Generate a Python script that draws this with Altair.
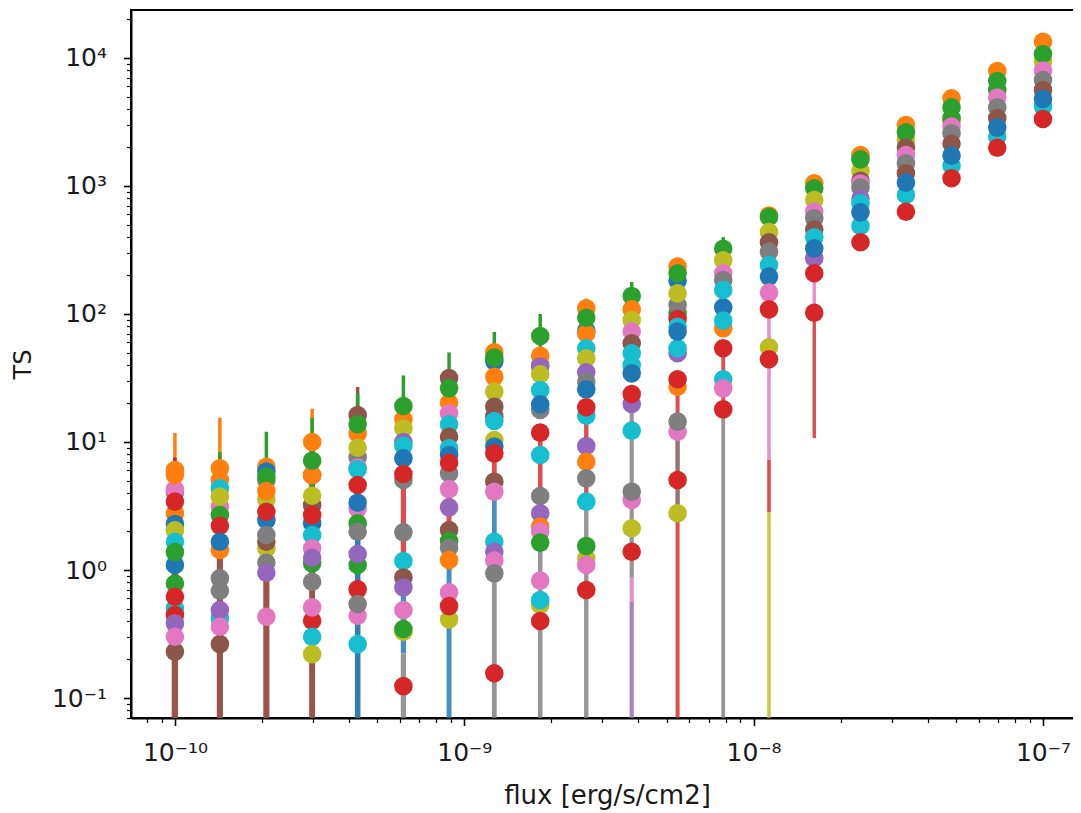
import altair as alt
import pandas as pd

FLUX = [1.0e-10, 1.43e-10, 2.07e-10, 2.98e-10, 4.28e-10, 6.16e-10, 8.86e-10, 1.27e-9, 1.83e-9, 2.64e-9,
        3.79e-9, 5.46e-9, 7.85e-9, 1.13e-8, 1.62e-8, 2.34e-8, 3.36e-8, 4.83e-8, 6.95e-8, 1.0e-7]
PALETTE = ["#1f77b4", "#ff7f0e", "#2ca02c", "#d62728", "#9467bd", "#8c564b", "#e377c2", "#7f7f7f", "#bcbd22", "#17becf"]
NAMES = ["blue", "orange", "green", "red", "purple", "brown", "pink", "gray", "olive", "cyan"]
b, o, g, r, p, n, k, a, l, c = range(10)

# per flux column: (series colour, log10 TS) in drawing order
COLUMNS = [
    [(a,.61),(k,.63),(o,.44),(b,.36),(l,.31),(r,.534),(o,.78),(o,.742),(c,.22),(b,.04),(g,.14),(c,-.30),(g,-.105),(r,-.352),(r,-.209),(n,-.638),(p,-.417),(k,-.521)],
    [(o,.794),(o,.703),(c,.638),(k,.495),(l,.573),(g,.43),(o,.156),(r,.346),(b,.221),(a,-.065),(a,-.162),(c,-.378),(p,-.313),(n,-.579),(k,-.443)],
    [(o,.807),(b,.77),(a,.70),(l,.55),(g,.729),(o,.617),(b,.39),(r,.455),(l,.169),(n,.221),(a,.273),(a,.057),(p,-.021),(k,-.365)],
    [(o,1.0),(n,.74),(o,.742),(g,.854),(n,.507),(l,.58),(b,.364),(c,.273),(r,.429),(g,.052),(k,.169),(p,.096),(a,-.092),(r,-.396),(k,-.292),(c,-.521),(l,-.657)],
    [(n,1.21),(o,1.067),(g,1.138),(a,.88),(l,.955),(k,.80),(c,.786),(r,.664),(k,.48),(b,.526),(g,.364),(a,.299),(g,.039),(p,.125),(r,-.151),(k,-.357),(a,-.266),(c,-.579)],
    [(o,1.177),(l,1.106),(g,1.281),(p,1.0),(c,.971),(b,.872),(a,.703),(r,.75),(a,.294),(c,.07),(n,-.058),(p,-.136),(k,-.313),(l,-.482),(g,-.461),(r,-.907)],
    [(n,1.50),(o,1.307),(g,1.419),(k,1.224),(c,1.138),(n,1.041),(c,.95),(b,.898),(a,.755),(r,.838),(k,.632),(p,.489),(n,.312),(g,.226),(a,.174),(o,.078),(k,-.175),(l,-.386),(r,-.282)],
    [(o,1.70),(b,1.63),(g,1.659),(o,1.51),(l,1.393),(n,1.276),(n,1.2),(c,1.164),(l,1.016),(b,.964),(r,.911),(n,.69),(k,.612),(c,.221),(p,.143),(k,.073),(a,-.026),(r,-.807)],
    [(g,1.828),(a,1.60),(o,1.674),(p,1.589),(l,1.529),(c,1.406),(a,1.25),(b,1.294),(r,1.073),(c,.898),(a,.578),(p,.443),(o,.339),(k,.3),(g,.214),(l,-.273),(k,-.083),(c,-.234),(r,-.398)],
    [(o,2.044),(b,1.87),(o,1.849),(g,1.971),(c,1.732),(l,1.654),(p,1.544),(a,1.471),(c,1.206),(b,1.411),(r,1.271),(p,.969),(o,.846),(a,.716),(c,.534),(l,.091),(g,.188),(k,.039),(r,-.156)],
    [(g,2.141),(o,2.036),(l,1.953),(k,1.862),(n,1.771),(c,1.693),(c,1.60),(b,1.536),(p,1.297),(r,1.375),(c,1.089),(k,.547),(a,.612),(l,.326),(r,.143)],
    [(o,2.37),(b,2.26),(g,2.318),(g,2.005),(a,2.07),(l,2.161),(r,1.96),(c,1.90),(p,1.693),(c,1.732),(b,1.862),(o,1.432),(r,1.49),(k,1.081),(a,1.159),(r,.703),(l,.443)],
    [(g,2.51),(l,2.42),(k,2.318),(a,2.266),(b,2.052),(c,2.188),(o,1.888),(c,1.948),(r,1.732),(c,1.49),(k,1.419),(r,1.255)],
    [(o,2.77),(g,2.758),(l,2.64),(n,2.56),(a,2.487),(c,2.383),(b,2.292),(k,2.167),(r,2.036),(l,1.74),(r,1.646)],
    [(o,3.021),(g,2.982),(l,2.891),(k,2.80),(a,2.747),(n,2.66),(p,2.435),(c,2.599),(b,2.513),(r,2.318),(r,2.01)],
    [(o,3.242),(l,3.117),(g,3.208),(n,3.04),(k,3.02),(a,2.987),(p,2.90),(c,2.687),(c,2.865),(b,2.794),(r,2.56)],
    [(o,3.477),(l,3.359),(g,3.419),(n,3.30),(k,3.242),(a,3.177),(n,3.10),(c,2.93),(b,3.026),(r,2.799)],
    [(o,3.685),(l,3.50),(g,3.614),(g,3.53),(k,3.464),(a,3.411),(n,3.33),(c,3.159),(b,3.237),(r,3.06)],
    [(o,3.898),(g,3.75),(g,3.82),(k,3.69),(a,3.614),(n,3.53),(c,3.385),(b,3.456),(r,3.299)],
    [(o,4.127),(l,3.97),(g,4.031),(k,3.901),(a,3.828),(n,3.75),(c,3.62),(b,3.68),(r,3.523)],
]

# thin upper error bars: (column, colour, top log10 TS)
UPPER = [
    (0,o,1.07),(0,r,.88),(1,o,1.19),(1,g,.92),(2,g,1.08),(3,o,1.26),(3,g,1.19),(4,n,1.43),(4,g,1.38),
    (5,g,1.52),(6,g,1.70),(7,g,1.86),(8,g,2.0),(9,o,2.12),(10,g,2.25),(11,o,2.44),(12,g,2.6),
]
# lower error bars: (column, colour, bottom log10 TS, top log10 TS); -2 runs off the axis
LOWER = [
    (0,r,-2,.8),(0,n,-2,.8),(1,r,-2,.8),(1,n,-2,.8),(2,r,-2,.8),(2,n,-2,.8),(3,r,-2,1),(3,n,-2,1),
    (4,a,-2,.3),(4,b,-2,.3),(5,r,-.1,.75),(5,b,-.65,-.1),(5,a,-2,-.65),(6,r,.3,.8),(6,b,-2,.3),
    (7,r,.6,.9),(7,b,.2,.6),(7,a,-2,.2),(8,r,.6,1.07),(8,a,-2,.6),(9,r,.5,1.27),(9,a,-2,.5),
    (10,a,-.06,1.3),(10,k,-.25,-.06),(10,p,-2,-.25),(11,r,-2,1.45),(11,a,.44,1.15),
    (12,a,-2,1.3),(12,r,1.25,1.73),(13,k,.86,2.0),(13,r,.45,.86),(13,l,-2,.45),
    (14,k,2.0,2.3),(14,r,1.03,2.0),
]

X_DOMAIN = [7.05e-11, 1.375e-7]
Y_DOMAIN = [0.0698, 23700]
X_TICKS = [m * d for d in [1e-11, 1e-10, 1e-9, 1e-8, 1e-7] for m in range(1, 10)
           if X_DOMAIN[0] <= m * d <= X_DOMAIN[1]]
Y_TICKS = [m * d for d in [1e-2, 1e-1, 1e0, 1e1, 1e2, 1e3, 1e4] for m in range(1, 10)
           if Y_DOMAIN[0] <= m * d <= Y_DOMAIN[1]]

pts = pd.DataFrame(
    [{"flux": FLUX[i], "TS": 10 ** v, "s": NAMES[col]} for i, column in enumerate(COLUMNS) for col, v in column]
)
up = pd.DataFrame([{"flux": FLUX[i], "lo": 10 ** (COLUMNS[i][0][1] - .4), "hi": 10 ** h, "s": NAMES[col]} for i, col, h in UPPER])
low = pd.DataFrame([{"flux": FLUX[i], "lo": 10 ** lo, "hi": 10 ** hi, "s": NAMES[col]} for i, col, lo, hi in LOWER])

xs = alt.Scale(type="log", domain=X_DOMAIN, nice=False)
ys = alt.Scale(type="log", domain=Y_DOMAIN, nice=False)
cs = alt.Color("s:N", scale=alt.Scale(domain=NAMES, range=PALETTE), legend=None)
FONT = "DejaVu Sans"

EXPONENT = "round(log(datum.value)/LN10)"
IS_MINOR = f"abs(log(datum.value)/LN10 - {EXPONENT}) > 0.01"
SUPERS = ("{'-10':'⁻¹⁰','-9':'⁻⁹','-8':'⁻⁸','-7':'⁻⁷','-1':'⁻¹','0':'⁰','1':'¹','2':'²','3':'³','4':'⁴'}"
          f"[toString({EXPONENT})]")
LABEL = f"{IS_MINOR} ? '' : '10' + {SUPERS}"
TICK_SIZE = {"condition": {"test": IS_MINOR, "value": 4.5}, "value": 7.5}
TICK_WIDTH = {"condition": {"test": IS_MINOR, "value": 1.2}, "value": 1.6}

axis_style = dict(
    grid=False, tickSize=TICK_SIZE, tickWidth=TICK_WIDTH, tickColor="black",
    domainColor="black", domainWidth=2, labelExpr=LABEL, labelOverlap=False, labelBound=False, labelFlush=False,
    labelFont=FONT, labelFontSize=25, labelColor="#1a1a1a",
    titleFont=FONT, titleFontWeight="normal", titleColor="#1a1a1a",
)
x_main = alt.X("flux:Q", scale=xs, axis=alt.Axis(
    values=X_TICKS, title="flux [erg/s/cm2]", orient="bottom", labelPadding=15, titlePadding=17,
    titleFontSize=26, **axis_style))
y_main = alt.Y("lo:Q", scale=ys, axis=alt.Axis(
    values=Y_TICKS, title="TS", orient="left", labelPadding=17, titlePadding=16,
    titleFontSize=24, **axis_style))

lower = alt.Chart(low).mark_rule(clip=True, opacity=0.82).encode(
    x=x_main, y=y_main, y2="hi:Q", color=cs,
    size=alt.Size("flux:Q", scale=alt.Scale(type="log", domain=[1e-10, 1.62e-8], range=[6.2, 3.4]), legend=None))
upper = alt.Chart(up).mark_rule(clip=True, strokeWidth=3.5).encode(
    x=alt.X("flux:Q", scale=xs), y=alt.Y("lo:Q", scale=ys), y2="hi:Q", color=cs)
dots = alt.Chart(pts).mark_circle(clip=True, size=345, opacity=1).encode(
    x=alt.X("flux:Q", scale=xs), y=alt.Y("TS:Q", scale=ys), color=cs)

chart = alt.layer(lower, upper, dots).properties(
    width=952, height=708,
    padding={"left": 123, "top": 2, "right": -10, "bottom": 94},
    autosize=alt.AutoSizeParams(type="none"),
    background="white",
).configure_view(stroke="black", strokeWidth=2)

chart.save("out.html", embed_options={"renderer": "svg", "actions": False})
